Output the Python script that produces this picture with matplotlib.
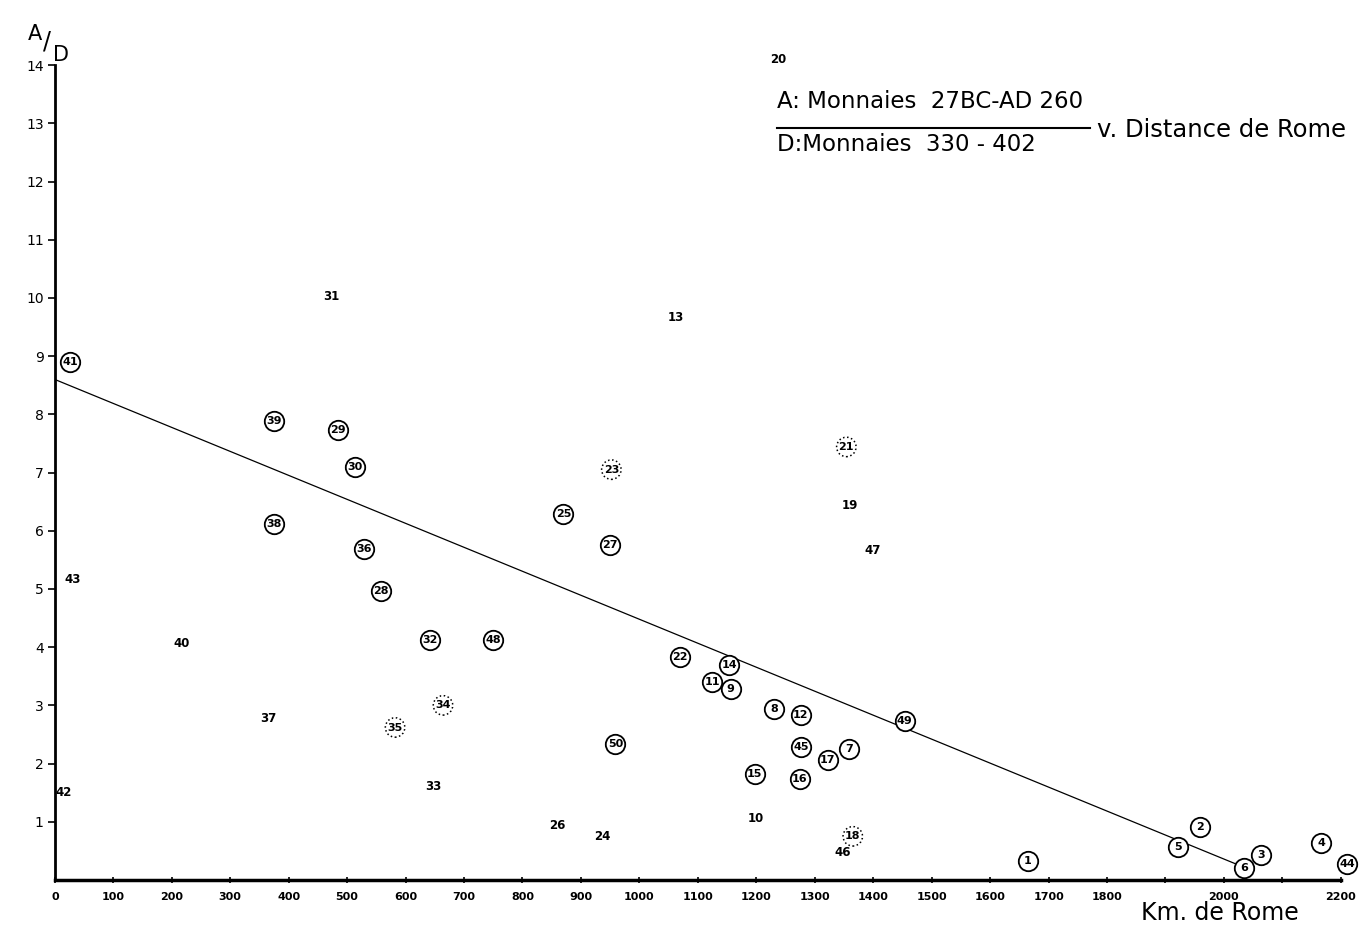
import matplotlib.pyplot as plt

# site number, distance from Rome (km), ratio A/D
circled_ids = ["41", "39", "29", "30", "38", "36", "28", "32", "48", "25", "27",
               "22", "14", "11", "9", "8", "12", "49", "50", "45", "7", "17",
               "15", "16", "1", "5", "2", "6", "3", "4", "44"]
circled_km = [26, 375, 485, 514, 375, 529, 558, 642, 750, 870, 950,
              1070, 1154, 1125, 1156, 1231, 1276, 1454, 959, 1277, 1358, 1322,
              1197, 1274, 1664, 1921, 1959, 2034, 2063, 2166, 2211]
circled_ratio = [8.90, 7.89, 7.74, 7.10, 6.12, 5.68, 4.97, 4.12, 4.12, 6.28, 5.75,
                 3.84, 3.70, 3.41, 3.29, 2.93, 2.83, 2.74, 2.33, 2.28, 2.25, 2.06,
                 1.82, 1.73, 0.33, 0.57, 0.91, 0.21, 0.43, 0.63, 0.27]

dotted_ids = ["35", "34", "23", "21", "18"]
dotted_km = [582, 664, 952, 1354, 1365]
dotted_ratio = [2.62, 3.00, 7.05, 7.44, 0.75]

plain_ids = ["20", "31", "13", "43", "40", "37", "33", "42", "19", "47",
             "10", "26", "24", "46"]
plain_km = [1238, 473, 1063, 31, 217, 366, 647, 15, 1360, 1399,
            1200, 860, 937, 1348]
plain_ratio = [14.1, 10.02, 9.66, 5.16, 4.07, 2.78, 1.60, 1.51, 6.43, 5.66,
               1.05, 0.93, 0.75, 0.48]

# regression line drawn on the original
fit_intercept = 8.6
fit_slope = -0.00412
fit_x = [0, 2030]

x_ticks = list(range(0, 2300, 100))
x_labels = ["" if t in (1900, 2100) else str(t) for t in x_ticks]
y_ticks = list(range(1, 15))


def main() -> None:
    fig = plt.figure(figsize=(13.71, 9.27), dpi=100)
    ax = fig.add_axes([0.040, 0.0507, 0.938, 0.879])

    ax.set_xlim(0, 2200)
    ax.set_ylim(0, 14)

    ax.plot(fit_x, [fit_intercept + fit_slope * x for x in fit_x],
            color="black", linewidth=0.9)

    ax.scatter(circled_km, circled_ratio, s=14 ** 2, facecolor="white",
               edgecolor="black", linewidth=1.3, zorder=3, clip_on=False)
    ax.scatter(dotted_km, dotted_ratio, s=14 ** 2, facecolor="white",
               edgecolor="black", linewidth=1.1, linestyle=":", zorder=3,
               clip_on=False)

    for ids, xs, ys, fs in [(circled_ids, circled_km, circled_ratio, 8),
                            (dotted_ids, dotted_km, dotted_ratio, 8),
                            (plain_ids, plain_km, plain_ratio, 8.5)]:
        for label, x, y in zip(ids, xs, ys):
            ax.text(x, y, label, ha="center", va="center", fontsize=fs,
                    fontweight="bold", zorder=4, clip_on=False)

    for side in ("top", "right"):
        ax.spines[side].set_visible(False)
    ax.spines["left"].set_linewidth(2)
    ax.spines["bottom"].set_linewidth(2.5)

    ax.set_xticks(x_ticks)
    ax.set_xticklabels(x_labels, fontsize=8, fontweight="bold")
    ax.set_yticks(y_ticks)
    ax.set_yticklabels([str(t) for t in y_ticks], fontsize=10)
    ax.tick_params(axis="x", direction="inout", length=5, width=1.2, pad=6)
    ax.tick_params(axis="y", direction="out", length=5, width=1.2, pad=3)

    # axis captions
    fig.text(0.020, 0.957, "A", fontsize=15)
    fig.text(0.031, 0.948, "/", fontsize=17)
    fig.text(0.039, 0.934, "D", fontsize=15)
    fig.text(0.832, 0.008, "Km. de Rome", fontsize=17)

    # title fraction
    fig.text(0.567, 0.884, "A: Monnaies  27BC-AD 260", fontsize=16.5)
    fig.add_artist(plt.Line2D([0.567, 0.795], [0.862, 0.862],
                              color="black", linewidth=1.5))
    fig.text(0.567, 0.837, "D:Monnaies  330 - 402", fontsize=16.5)
    fig.text(0.800, 0.852, "v. Distance de Rome", fontsize=17.5)

    plt.savefig("out.png", dpi=100)
    plt.close()


if __name__ == "__main__":
    main()
